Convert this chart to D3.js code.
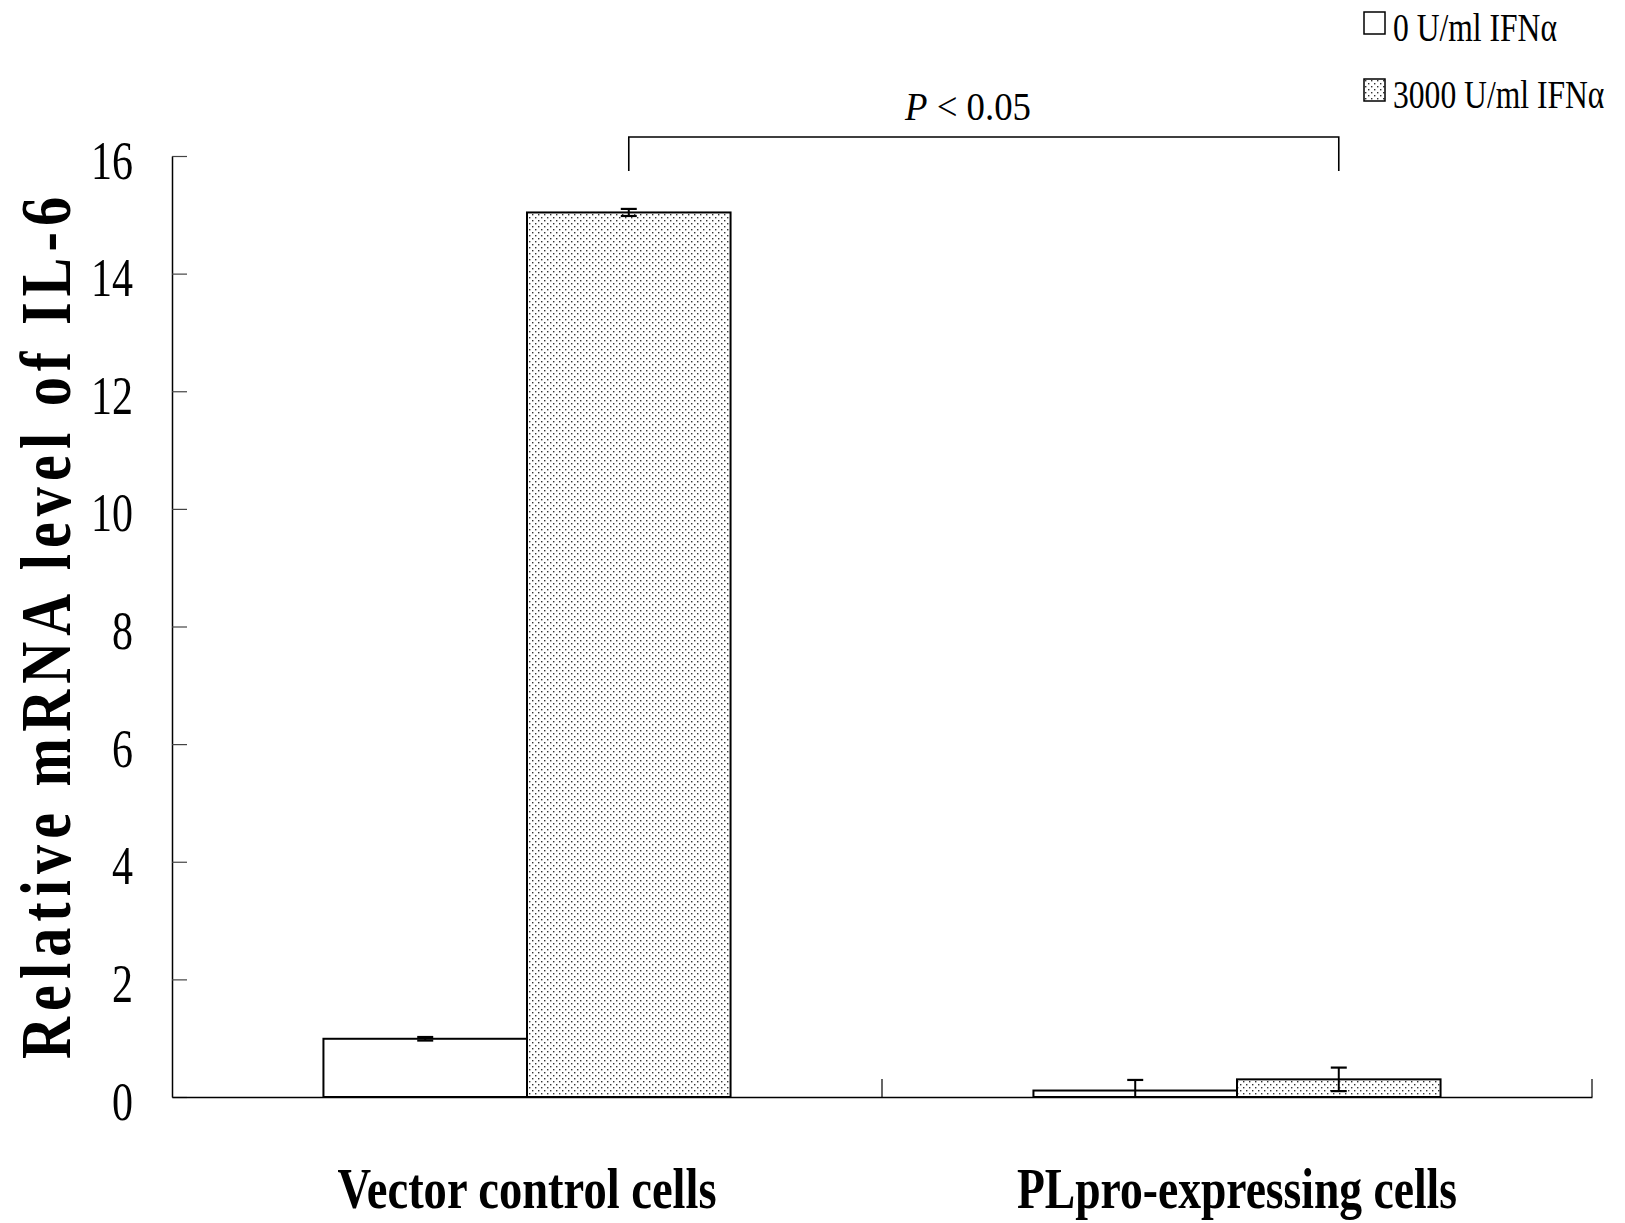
<!DOCTYPE html>
<html>
<head>
<meta charset="utf-8">
<script src="https://cdn.jsdelivr.net/npm/d3@7"></script>
<style>
    html, body { margin: 0; padding: 0; background: #fff; }
    svg { display: block; }
    text { font-family: "Liberation Serif", "Times New Roman", serif; fill: #000; }
</style>
</head>
<body>
<svg id="chart" width="1625" height="1223"></svg>
<script>
// data
const groups = ["Vector control cells", "PLpro-expressing cells"];
const series = ["0 U/ml IFNα", "3000 U/ml IFNα"];
const values = [
    [0.99, 15.04],   // vector control: 0, 3000 U/ml
    [0.11, 0.30],    // PLpro-expressing: 0, 3000 U/ml
];
const errors = [
    [0.03, 0.06],
    [0.18, 0.20],
];
const yTicks = [0, 2, 4, 6, 8, 10, 12, 14, 16];
const pLabel = "P < 0.05";

const svg = d3.select("#chart");
const FONT = "\"Liberation Serif\", \"Times New Roman\", serif";

const defs = svg.append("defs");
const pat = defs.append("pattern")
    .attr("id", "dots")
    .attr("patternUnits", "userSpaceOnUse")
    .attr("width", 6)
    .attr("height", 6);
pat.append("rect").attr("width", 6).attr("height", 6).attr("fill", "#fff");
pat.append("rect").attr("x", 1).attr("y", 1).attr("width", 1.4).attr("height", 1.4).attr("fill", "#333");
pat.append("rect").attr("x", 4).attr("y", 4).attr("width", 1.4).attr("height", 1.4).attr("fill", "#333");

const fills = ["#fff", "url(#dots)"];

const x0 = d3.scaleBand().domain(groups).range([172, 1592]).paddingInner(0).paddingOuter(0);
const x1 = d3.scaleBand().domain(series).range([0, x0.bandwidth()]).paddingInner(0).paddingOuter(0.744);
const y = d3.scaleLinear().domain([0, 16]).range([1097, 156]);

// y axis
const yAxis = svg.append("g")
    .attr("transform", "translate(172,0)")
    .call(d3.axisLeft(y).tickValues(yTicks).tickSizeInner(-15).tickSizeOuter(0).tickPadding(0));
yAxis.select(".domain").attr("stroke", "#000").attr("stroke-width", 1.5);
yAxis.selectAll(".tick line").attr("stroke", "#444").attr("stroke-width", 1.2);
yAxis.selectAll(".tick text")
    .attr("font-family", FONT)
    .attr("font-size", 55)
    .attr("x", -39)
    .attr("dy", "0.4em")
    .attr("textLength", d => String(d).length * 21)
    .attr("lengthAdjust", "spacingAndGlyphs");

// x axis
const xAxis = svg.append("g")
    .attr("transform", "translate(0,1097)")
    .call(d3.axisBottom(x0).tickSize(0).tickPadding(0));
xAxis.select(".domain").attr("stroke", "#000").attr("stroke-width", 1.5);
xAxis.selectAll(".tick text")
    .attr("font-family", FONT)
    .attr("font-size", 57)
    .attr("font-weight", "bold")
    .attr("y", 111)
    .attr("dy", 0)
    .attr("textLength", d => d === groups[0] ? 379 : 440)
    .attr("lengthAdjust", "spacingAndGlyphs");

// separators between categories
svg.append("g").selectAll("line")
    .data(groups)
    .join("line")
    .attr("x1", d => x0(d) + x0.bandwidth())
    .attr("x2", d => x0(d) + x0.bandwidth())
    .attr("y1", y(0))
    .attr("y2", y(0) - 18)
    .attr("stroke", "#000")
    .attr("stroke-width", 1.2);

// bars
const rows = groups.flatMap((g, gi) => series.map((s, si) => ({
    g, s, si, v: values[gi][si], e: errors[gi][si]
})));

svg.append("g").selectAll("rect")
    .data(rows)
    .join("rect")
    .attr("x", d => x0(d.g) + x1(d.s))
    .attr("y", d => y(d.v))
    .attr("width", x1.bandwidth())
    .attr("height", d => y(0) - y(d.v))
    .attr("fill", d => fills[d.si])
    .attr("stroke", "#000")
    .attr("stroke-width", 2);

// error bars
const eb = svg.append("g").selectAll("g")
    .data(rows)
    .join("g")
    .attr("transform", d => `translate(${x0(d.g) + x1(d.s) + x1.bandwidth() / 2},0)`);
eb.append("line")
    .attr("y1", d => y(d.v + d.e))
    .attr("y2", d => y(Math.max(0, d.v - d.e)))
    .attr("stroke", "#000").attr("stroke-width", 2);
eb.append("line")
    .attr("x1", -8).attr("x2", 8)
    .attr("y1", d => y(d.v + d.e)).attr("y2", d => y(d.v + d.e))
    .attr("stroke", "#000").attr("stroke-width", 2.2);
eb.filter(d => d.v - d.e > 0).append("line")
    .attr("x1", -8).attr("x2", 8)
    .attr("y1", d => y(d.v - d.e)).attr("y2", d => y(d.v - d.e))
    .attr("stroke", "#000").attr("stroke-width", 2.2);

// significance bracket between the two IFN-treated bars
const bx1 = x0(groups[0]) + x1(series[1]) + x1.bandwidth() / 2;
const bx2 = x0(groups[1]) + x1(series[1]) + x1.bandwidth() / 2;
const by = 137;
svg.append("path")
    .attr("d", `M${bx1},171V${by}H${bx2}V171`)
    .attr("fill", "none")
    .attr("stroke", "#000")
    .attr("stroke-width", 1.6);
const pText = svg.append("text")
    .attr("x", 905)
    .attr("y", 120)
    .attr("font-size", 39)
    .attr("textLength", 126)
    .attr("lengthAdjust", "spacingAndGlyphs");
pText.append("tspan").attr("font-style", "italic").text(pLabel.slice(0, 1));
pText.append("tspan").text(pLabel.slice(1));

// y title: narrow glyphs, spaced out along the axis
const titleScale = 0.82;
svg.append("text")
    .attr("transform", `translate(70,628) rotate(-90) scale(${titleScale},1)`)
    .attr("text-anchor", "middle")
    .attr("font-size", 71)
    .attr("font-weight", "bold")
    .attr("textLength", 862 / titleScale)
    .attr("lengthAdjust", "spacing")
    .text("Relative mRNA level of IL-6");

// legend (text squeezed sideways with a transform so its box stays true)
const legend = svg.append("g").selectAll("g")
    .data(series)
    .join("g")
    .attr("transform", (d, i) => `translate(1364,${12 + i * 67})`);
legend.append("rect")
    .attr("width", 21).attr("height", 22)
    .attr("fill", (d, i) => fills[i])
    .attr("stroke", "#000").attr("stroke-width", 1.5);
legend.append("text")
    .attr("transform", "translate(29,29) scale(0.79,1)")
    .attr("font-size", 40)
    .text(d => d);
</script>
</body>
</html>
